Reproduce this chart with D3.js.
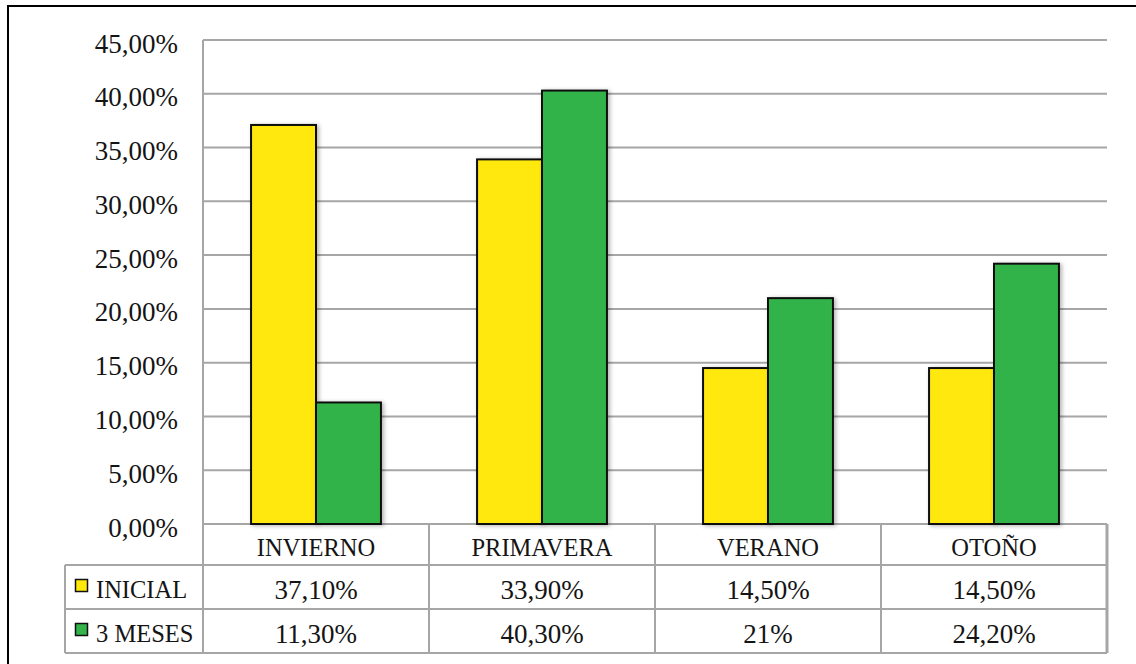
<!DOCTYPE html>
<html>
<head>
<meta charset="utf-8">
<script src="https://cdn.jsdelivr.net/npm/d3@7"></script>
<style>
  html, body { margin: 0; padding: 0; background: #fff; }
  svg { display: block; }
  text { font-family: "Liberation Serif", "DejaVu Serif", serif; fill: #141414; }
</style>
</head>
<body>
<svg id="chart" width="1136" height="664"></svg>
<script>
// Seasons shown along the x axis
const categories = ["INVIERNO", "PRIMAVERA", "VERANO", "OTOÑO"];
// Series names (legend column of the data table)
const seriesNames = ["INICIAL", "3 MESES"];
// Percent values per season
const inicialValues = [37.1, 33.9, 14.5, 14.5];
const mesesValues = [11.3, 40.3, 21, 24.2];
// Text shown in the data table cells
const inicialLabels = ["37,10%", "33,90%", "14,50%", "14,50%"];
const mesesLabels = ["11,30%", "40,30%", "21%", "24,20%"];
// Y axis ticks
const yTicks = [0, 5, 10, 15, 20, 25, 30, 35, 40, 45];
const yTickLabels = ["0,00%", "5,00%", "10,00%", "15,00%", "20,00%", "25,00%", "30,00%", "35,00%", "40,00%", "45,00%"];
const seriesColors = ["#FFE80A", "#33B34A"];

const series = [
  { name: seriesNames[0], values: inicialValues, labels: inicialLabels, color: seriesColors[0] },
  { name: seriesNames[1], values: mesesValues, labels: mesesLabels, color: seriesColors[1] }
];

const svg = d3.select("#chart");
const numSize = 27;   // numeric labels
const capSize = 24.5; // upper-case word labels
const gridColor = "#A6A6A6";

const plot = { left: 203, right: 1107, top: 40, bottom: 524 };
const tableLeft = 65;
const rowLines = [524, 565, 609, 653];

const x0 = d3.scaleBand().domain(categories).range([plot.left, plot.right]).paddingInner(0).paddingOuter(0);
const x1 = d3.scaleBand().domain(seriesNames).range([0, x0.bandwidth()]).paddingInner(0).paddingOuter(0.74);
const y = d3.scaleLinear().domain([0, 45]).range([plot.bottom, plot.top]);

// soft shadow under bars
const defs = svg.append("defs");
const f = defs.append("filter").attr("id", "shadow").attr("x", "-20%").attr("y", "-5%").attr("width", "150%").attr("height", "115%");
f.append("feDropShadow").attr("dx", 2).attr("dy", 1).attr("stdDeviation", 2).attr("flood-color", "#000").attr("flood-opacity", 0.3);

// outer frame
svg.append("rect")
  .attr("x", 8).attr("y", 6).attr("width", 1140).attr("height", 670)
  .attr("fill", "none").attr("stroke", "#000").attr("stroke-width", 2);

// horizontal gridlines
svg.append("g")
  .selectAll("line").data(yTicks).join("line")
  .attr("x1", plot.left).attr("x2", plot.right)
  .attr("y1", d => y(d)).attr("y2", d => y(d))
  .attr("stroke", gridColor).attr("stroke-width", 2);

// y tick labels
svg.append("g")
  .selectAll("text").data(yTicks).join("text")
  .attr("x", 178).attr("y", d => y(d) + 12.5)
  .attr("text-anchor", "end").attr("font-size", numSize)
  .text((d, i) => yTickLabels[i]);

// left axis line
svg.append("line")
  .attr("x1", plot.left).attr("x2", plot.left)
  .attr("y1", plot.top).attr("y2", rowLines[3])
  .attr("stroke", gridColor).attr("stroke-width", 2);

// bars
const groups = svg.append("g").selectAll("g").data(categories).join("g")
  .attr("transform", d => `translate(${x0(d)},0)`);
groups.selectAll("rect")
  .data((c, ci) => series.map(s => ({ key: s.name, value: s.values[ci], color: s.color })))
  .join("rect")
  .attr("x", d => x1(d.key))
  .attr("y", d => y(d.value))
  .attr("width", x1.bandwidth())
  .attr("height", d => y(0) - y(d.value))
  .attr("fill", d => d.color)
  .attr("stroke", "#111").attr("stroke-width", 2)
  .attr("filter", "url(#shadow)");

// data table grid
const tg = svg.append("g");
// horizontal rules
tg.selectAll("line.h").data(rowLines.slice(1)).join("line")
  .attr("class", "h")
  .attr("x1", tableLeft).attr("x2", plot.right)
  .attr("y1", d => d).attr("y2", d => d)
  .attr("stroke", gridColor).attr("stroke-width", 2);
// vertical rules at category boundaries
const colEdges = categories.map(c => x0(c)).concat([plot.right]);
tg.selectAll("line.v").data(colEdges).join("line")
  .attr("class", "v")
  .attr("x1", d => d).attr("x2", d => d)
  .attr("y1", rowLines[0]).attr("y2", rowLines[3])
  .attr("stroke", gridColor).attr("stroke-width", (d, i) => i === colEdges.length - 1 ? 3 : 2);
// left edge of legend column
tg.append("line")
  .attr("x1", tableLeft).attr("x2", tableLeft)
  .attr("y1", rowLines[1]).attr("y2", rowLines[3])
  .attr("stroke", gridColor).attr("stroke-width", 2);

// category labels
svg.append("g").selectAll("text").data(categories).join("text")
  .attr("x", d => x0(d) + x0.bandwidth() / 2)
  .attr("y", (rowLines[0] + rowLines[1]) / 2 + 11)
  .attr("text-anchor", "middle").attr("font-size", capSize)
  .text(d => d);

// table rows: legend key, series name, values
series.forEach((s, si) => {
  const top = rowLines[si + 1], bot = rowLines[si + 2];
  const mid = (top + bot) / 2;
  svg.append("rect")
    .attr("x", 75.5).attr("y", mid - 7.5)
    .attr("width", 12).attr("height", 12)
    .attr("fill", s.color).attr("stroke", "#111").attr("stroke-width", 1.5);
  svg.append("text")
    .attr("x", 96).attr("y", mid + 11)
    .attr("font-size", capSize)
    .text(s.name);
  svg.append("g").selectAll("text").data(categories).join("text")
    .attr("x", d => x0(d) + x0.bandwidth() / 2)
    .attr("y", mid + 11.5)
    .attr("text-anchor", "middle").attr("font-size", numSize)
    .text((d, i) => s.labels[i]);
});
</script>
</body>
</html>
